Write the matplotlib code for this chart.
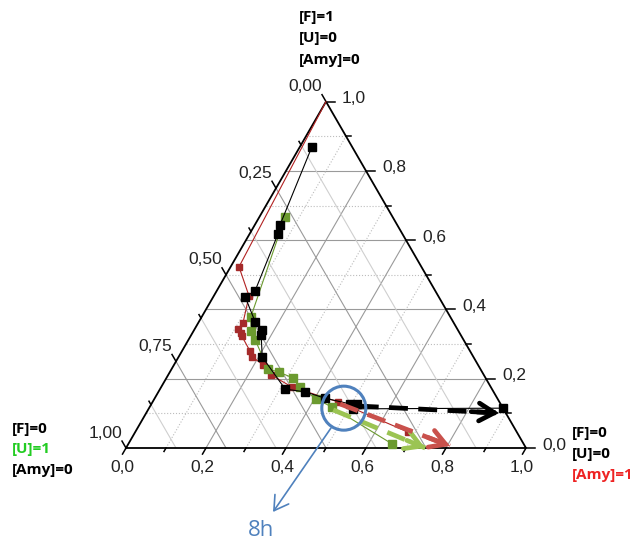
import numpy as np
import matplotlib
matplotlib.use('Agg')
import matplotlib.pyplot as plt
from matplotlib.patches import Circle

# ternary data: ([F], [Amy]) fractions, [U] = 1 - F - Amy
black_F = [0.87, 0.644, 0.618, 0.453, 0.436, 0.364, 0.341, 0.326, 0.263, 0.170, 0.162, 0.144, 0.127, 0.127, 0.113, 0.115]
black_Amy = [0.030, 0.063, 0.071, 0.096, 0.080, 0.141, 0.170, 0.175, 0.209, 0.313, 0.367, 0.425, 0.497, 0.514, 0.511, 0.885]

red_F = [1.0, 0.523, 0.439, 0.361, 0.344, 0.332, 0.323, 0.280, 0.263, 0.240, 0.211, 0.176, 0.133, 0.046]
red_Amy = [0.0, 0.021, 0.088, 0.112, 0.108, 0.122, 0.128, 0.170, 0.184, 0.223, 0.257, 0.327, 0.464, 0.682]

green_F = [0.667, 0.378, 0.338, 0.312, 0.228, 0.219, 0.202, 0.176, 0.142, 0.118, 0.012]
green_Amy = [0.064, 0.123, 0.144, 0.167, 0.241, 0.273, 0.317, 0.347, 0.404, 0.456, 0.659]

# trend arrows (start, end) as (F, Amy)
arrow_black = [(0.121, 0.524), (0.101, 0.882)]
arrow_red = [(0.127, 0.472), (0.006, 0.807)]
arrow_green = [(0.110, 0.463), (0.0, 0.748)]

circle_center = (0.115, 0.487)

major_F = [0.2, 0.4, 0.6, 0.8]
minor_F = [0.1, 0.3, 0.5, 0.7, 0.9]
major_Amy = [0.2, 0.4, 0.6, 0.8]
minor_Amy = [0.1, 0.3, 0.5, 0.7, 0.9]
major_U = [0.25, 0.5, 0.75]
minor_U = [0.125, 0.375, 0.625, 0.875]

bottom_labels = ['0,0', '0,2', '0,4', '0,6', '0,8', '1,0']
right_labels = ['0,0', '0,2', '0,4', '0,6', '0,8', '1,0']
left_labels = ['0,00', '0,25', '0,50', '0,75', '1,00']

PX = 1 / 400.0  # one pixel in data units
S3 = np.sqrt(3) / 2

BLACK = 'black'
RED = '#a52a2a'
RED_ARROW = '#c9514c'
GREEN = '#6b9a2f'
GREEN_ARROW = '#9bc453'
BLUE = '#4f81bd'


def tern(F, Amy):
    F = np.asarray(F, dtype=float)
    Amy = np.asarray(Amy, dtype=float)
    return Amy + F / 2, F * S3


fig = plt.figure(figsize=(6.3, 5.44), dpi=100)
ax = fig.add_axes([0, 0, 1, 1])
ax.set_xlim(-126 * PX, 504 * PX)
ax.set_ylim(-96 * PX, 448 * PX)
ax.axis('off')

# grid
def grid_F(f, **kw):
    x0, y0 = tern(f, 0)
    x1, y1 = tern(f, 1 - f)
    ax.plot([x0, x1], [y0, y1], **kw)

def grid_Amy(a, **kw):
    x0, y0 = tern(0, a)
    x1, y1 = tern(1 - a, a)
    ax.plot([x0, x1], [y0, y1], **kw)

def grid_U(u, **kw):
    x0, y0 = tern(0, 1 - u)
    x1, y1 = tern(1 - u, 0)
    ax.plot([x0, x1], [y0, y1], **kw)

major_kw = dict(color='#9a9a9a', lw=0.8, zorder=1)
dotted_kw = dict(color='#bdbdbd', lw=0.8, ls=':', zorder=1)
for f in major_F:
    grid_F(f, **major_kw)
for f in minor_F:
    grid_F(f, **dotted_kw)
for a in major_Amy:
    grid_Amy(a, **major_kw)
for a in minor_Amy:
    grid_Amy(a, **dotted_kw)
for u in major_U:
    grid_U(u, **major_kw)
for u in minor_U:
    grid_U(u, color='#cfcfcf', lw=0.8, zorder=1)

# triangle
tx, ty = tern([0, 0, 1, 0], [0, 1, 0, 0])
ax.plot(tx, ty, color='black', lw=1.3, zorder=3, solid_joinstyle='miter')

# ticks and tick labels
tick_font = dict(family='Liberation Sans', fontsize=12.5, color='#222222')
for i in range(11):
    a = i / 10
    L = 7 if i % 2 == 0 else 4
    x, y = tern(0, a)
    ax.plot([x, x - 0.5 * L * PX], [y, y - S3 * L * PX], color='black', lw=1.1, zorder=3)
    F = i / 10
    L = 9 if i % 2 == 0 else 5
    x, y = tern(F, 1 - F)
    ax.plot([x, x + L * PX], [y, y], color='black', lw=1.1, zorder=3)
for i in range(9):
    u = i / 8
    L = 8 if i % 2 == 0 else 4
    x, y = tern(1 - u, 0)
    ax.plot([x, x - 0.5 * L * PX], [y, y + S3 * L * PX], color='black', lw=1.1, zorder=3)

for i, lab in enumerate(bottom_labels):
    x, y = tern(0, i / 5)
    ax.text(x - 4 * PX, y - 20 * PX, lab, ha='center', va='center', **tick_font)
for i, lab in enumerate(right_labels):
    F = i / 5
    x, y = tern(F, 1 - F)
    ax.text(x + 16 * PX, y + 3 * PX, lab, ha='left', va='center', **tick_font)
for i, lab in enumerate(left_labels):
    u = i / 4
    x, y = tern(1 - u, 0)
    ax.text(x - 4 * PX, y + 15 * PX, lab, ha='right', va='center', **tick_font)

# series
bx, by = tern(black_F, black_Amy)
rx, ry = tern(red_F, red_Amy)
gx, gy = tern(green_F, green_Amy)
ax.plot(rx, ry, color='#b22222', lw=0.8, zorder=4)
ax.plot(rx[1:], ry[1:], ls='none', marker='s', ms=5, color=RED, zorder=5)
ax.plot(gx, gy, color=GREEN, lw=0.8, zorder=4)
ax.plot(gx, gy, ls='none', marker='s', ms=5.5, color=GREEN, zorder=5)
ax.plot(bx, by, color='black', lw=0.8, zorder=6)
ax.plot(bx, by, ls='none', marker='s', ms=5.5, color=BLACK, zorder=7)

# dashed trend arrows
def trend(arr, color, z):
    (f0, a0), (f1, a1) = arr
    x0, y0 = tern(f0, a0)
    x1, y1 = tern(f1, a1)
    ax.plot([x0, x1], [y0, y1], color=color, lw=3.4, ls=(0, (4, 2.2)), zorder=z,
            dash_capstyle='butt')
    ax.annotate('', xy=(x1, y1), xytext=(x0 + 0.8 * (x1 - x0), y0 + 0.8 * (y1 - y0)),
                arrowprops=dict(arrowstyle='->,head_length=0.55,head_width=0.32',
                                color=color, lw=3.4, mutation_scale=20,
                                shrinkA=0, shrinkB=0, joinstyle='miter'),
                zorder=z)

trend(arrow_green, GREEN_ARROW, 8)
trend(arrow_red, RED_ARROW, 8)
trend(arrow_black, BLACK, 9)

# 8h marker
cx, cy = tern(*circle_center)
ax.add_patch(Circle((cx, cy), 22 * PX, fill=False, ec=BLUE, lw=2.2, zorder=10))
ax.annotate('', xy=(273 * PX - 126 * PX, (448 - 512) * PX),
            xytext=(331 * PX - 126 * PX, (448 - 428) * PX),
            arrowprops=dict(arrowstyle='->,head_length=0.5,head_width=0.3', color=BLUE,
                            lw=1.2, mutation_scale=20, shrinkA=0, shrinkB=0), zorder=10)
ax.text(261 * PX - 126 * PX, (448 - 530) * PX, '8h', ha='center', va='center',
        fontsize=16, color=BLUE, family='Open Sans')

# vertex labels
lab_font = dict(family='Open Sans', fontsize=11, fontweight='bold')
def px_text(px, py, s, color='black'):
    ax.text((px - 126) * PX, (448 - py) * PX, s, ha='left', va='center', color=color, **lab_font)

px_text(299, 17, '[F]=1')
px_text(299, 38, '[U]=0')
px_text(299, 60, '[Amy]=0')
px_text(12, 429, '[F]=0')
px_text(12, 449, '[U]=1', color='#22cc22')
px_text(12, 470, '[Amy]=0')
px_text(572, 433, '[F]=0')
px_text(572, 454, '[U]=0')
px_text(572, 475, '[Amy]=1', color='#ee2222')

fig.savefig('out.png', dpi=100)
